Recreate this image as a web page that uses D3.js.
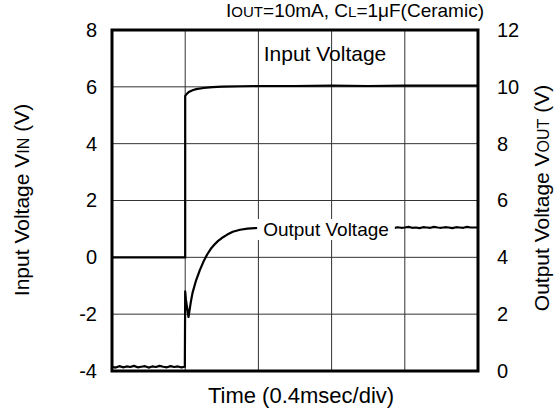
<!DOCTYPE html>
<html>
<head>
<meta charset="utf-8">
<script src="https://cdn.jsdelivr.net/npm/d3@7"></script>
<style>
  html, body { margin: 0; padding: 0; background: #fff; }
  svg { display: block; font-family: "Liberation Sans", Arial, sans-serif; }
</style>
</head>
<body>
<svg id="chart" width="559" height="414"></svg>
<script>
// ---- data ----
const leftTicks = [-4, -2, 0, 2, 4, 6, 8];
const rightTicks = [0, 2, 4, 6, 8, 10, 12];
const timeTicks = [0, 0.4, 0.8, 1.2, 1.6, 2.0]; // ms (0.4 ms/div)

// Input voltage (left axis, V)
const inTime = [0, 0.4, 0.4, 0.41, 0.42, 0.44, 0.46, 0.5, 0.55, 0.6, 0.7, 0.8, 1.0, 1.2, 1.4, 1.6, 1.8, 2.0];
const inV    = [0, 0, 5.68, 5.76, 5.82, 5.88, 5.92, 5.96, 5.99, 6.01, 6.02, 6.03, 6.03, 6.04, 6.03, 6.04, 6.04, 6.04];

// Output voltage (right axis, V)
const outTime = [0, 0.02, 0.04, 0.06, 0.08, 0.10, 0.12, 0.14, 0.16, 0.18, 0.20, 0.22, 0.24, 0.26, 0.28, 0.30, 0.32, 0.34, 0.36, 0.38, 0.398,
  0.4, 0.404, 0.418, 0.43, 0.44, 0.46, 0.48, 0.50, 0.52, 0.54, 0.56, 0.58, 0.60, 0.63, 0.66, 0.70, 0.74, 0.78,
  0.80, 0.82, 0.84, 0.86, 0.88, 0.90, 0.92, 0.94, 0.96, 0.98, 1.00, 1.02, 1.04, 1.06, 1.08, 1.10, 1.12, 1.14, 1.16, 1.18,
  1.20, 1.22, 1.24, 1.26, 1.28, 1.30, 1.32, 1.34, 1.36, 1.38, 1.40, 1.42, 1.44, 1.46, 1.48, 1.50, 1.52, 1.54, 1.56, 1.58,
  1.60, 1.62, 1.64, 1.66, 1.68, 1.70, 1.72, 1.74, 1.76, 1.78, 1.80, 1.82, 1.84, 1.86, 1.88, 1.90, 1.92, 1.94, 1.96, 1.98, 2.0];
const outV = [0.15, 0.12, 0.17, 0.13, 0.16, 0.14, 0.18, 0.13, 0.15, 0.17, 0.12, 0.16, 0.14, 0.18, 0.15, 0.13, 0.17, 0.14, 0.16, 0.13, 0.15,
  2.8, 2.5, 1.9, 2.4, 2.75, 3.2, 3.55, 3.85, 4.1, 4.3, 4.45, 4.58, 4.68, 4.8, 4.9, 4.97, 5.01, 5.03,
  5.04, 5.06, 5.03, 5.05, 5.07, 5.04, 5.05, 5.03, 5.06, 5.04, 5.07, 5.05, 5.03, 5.06, 5.04, 5.05, 5.07, 5.03, 5.05, 5.04,
  5.06, 5.04, 5.07, 5.05, 5.03, 5.06, 5.04, 5.05, 5.07, 5.04, 5.05, 5.03, 5.06, 5.05, 5.04, 5.07, 5.05, 5.03, 5.06, 5.04,
  5.05, 5.07, 5.04, 5.05, 5.03, 5.06, 5.05, 5.04, 5.07, 5.05, 5.04, 5.06, 5.05, 5.03, 5.06, 5.05, 5.04, 5.07, 5.05, 5.05, 5.05];

// ---- layout ----
const svg = d3.select("#chart");
const L = 112, R = 478, T = 30, B = 371;
const x = d3.scaleLinear().domain([0, 2.0]).range([L, R]);
const yL = d3.scaleLinear().domain([-4, 8]).range([B, T]);
const yR = d3.scaleLinear().domain([0, 12]).range([B, T]);
const fsTick = 20, fsLabel = 21, fsTitle = 22, fsSide = 21;

// grid
svg.append("g").selectAll("line").data(timeTicks.slice(1, -1)).join("line")
  .attr("x1", d => x(d)).attr("x2", d => x(d)).attr("y1", T).attr("y2", B)
  .attr("stroke", "#333").attr("stroke-width", 1);
svg.append("g").selectAll("line").data(leftTicks.slice(1, -1)).join("line")
  .attr("x1", L).attr("x2", R).attr("y1", d => yL(d)).attr("y2", d => yL(d))
  .attr("stroke", "#333").attr("stroke-width", 1);

// axes (labels only)
const fmt = d => String(d);
const axL = svg.append("g").attr("transform", `translate(${L},0)`)
  .call(d3.axisLeft(yL).tickValues(leftTicks).tickSize(0).tickPadding(15).tickFormat(fmt));
const axR = svg.append("g").attr("transform", `translate(${R},0)`)
  .call(d3.axisRight(yR).tickValues(rightTicks).tickSize(0).tickPadding(19).tickFormat(fmt));
const axB = svg.append("g").attr("transform", `translate(0,${B})`)
  .call(d3.axisBottom(x).tickValues(timeTicks).tickSize(0).tickFormat(""));
[axL, axR, axB].forEach(a => {
  a.select(".domain").remove();
  a.selectAll("text").attr("font-size", fsTick).attr("fill", "#000")
    .attr("font-family", "'Liberation Sans', Arial, sans-serif");
});

// traces
const lineIn = d3.line().x((d, i) => x(inTime[i])).y(d => yL(d));
const lineOut = d3.line().x((d, i) => x(outTime[i])).y(d => yR(d));
svg.append("path").attr("d", lineIn(inV)).attr("fill", "none")
  .attr("stroke", "#000").attr("stroke-width", 2.2);
svg.append("path").attr("d", lineOut(outV)).attr("fill", "none")
  .attr("stroke", "#000").attr("stroke-width", 2.2).attr("stroke-linejoin", "round");

// in-plot labels
svg.append("text").attr("x", 325).attr("y", 61).attr("text-anchor", "middle")
  .attr("font-size", fsLabel).text("Input Voltage");
const outBg = svg.append("rect").attr("fill", "#fff");
const outLbl = svg.append("text").attr("x", 326).attr("y", 236).attr("text-anchor", "middle")
  .attr("font-size", 19).text("Output Voltage");
const bb = outLbl.node().getBBox();
outBg.attr("x", bb.x - 6).attr("y", bb.y).attr("width", bb.width + 12).attr("height", bb.height);

// frame
svg.append("rect").attr("x", L).attr("y", T).attr("width", R - L).attr("height", B - T)
  .attr("fill", "none").attr("stroke", "#000").attr("stroke-width", 3);

// condition title
const tt = svg.append("text").attr("x", 484).attr("y", 17).attr("text-anchor", "end").attr("font-size", 19);
tt.append("tspan").text("I");
tt.append("tspan").attr("font-size", 15).text("OUT");
tt.append("tspan").text("=10mA, C");
tt.append("tspan").attr("font-size", 15).text("L");
tt.append("tspan").text("=1\u03bcF(Ceramic)");

// x title
svg.append("text").attr("x", 301).attr("y", 403).attr("text-anchor", "middle")
  .attr("font-size", fsTitle).text("Time (0.4msec/div)");

// left title
const lt = svg.append("text").attr("transform", "translate(29,200) rotate(-90)")
  .attr("text-anchor", "middle").attr("font-size", fsSide);
lt.append("tspan").text("Input Voltage V");
lt.append("tspan").attr("font-size", 16).text("IN");
lt.append("tspan").text(" (V)");

// right title
const rt = svg.append("text").attr("transform", "translate(549,198) rotate(-90)")
  .attr("text-anchor", "middle").attr("font-size", fsSide);
rt.append("tspan").text("Output Voltage V");
rt.append("tspan").attr("font-size", 16).text("OUT");
rt.append("tspan").text(" (V)");
</script>
</body>
</html>
